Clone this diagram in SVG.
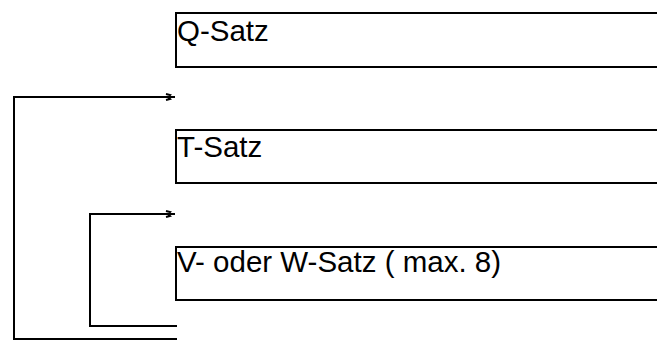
<svg xmlns="http://www.w3.org/2000/svg" width="657" height="354" viewBox="0 0 657 354">
<style>
.box{fill:#fff;stroke:#000;stroke-width:2}
.lbl{font-family:"Liberation Sans",Arial,sans-serif;font-size:29.5px;fill:#000}
.con{fill:none;stroke:#000;stroke-width:2}
.ah{fill:none;stroke:#000;stroke-width:2}
</style>
<rect width="657" height="354" fill="#fff"/>
<g id="q-satz"><rect class="box" x="176" y="13" width="490" height="54"/><text class="lbl" x="177" y="41">Q-Satz</text></g>
<g id="t-satz"><rect class="box" x="176" y="130" width="490" height="53"/><text class="lbl" x="177" y="157">T-Satz</text></g>
<g id="vw-satz"><rect class="box" x="176" y="247" width="490" height="53"/><text class="lbl" x="177" y="272">V- oder W-Satz ( max. 8)</text></g>
<g id="connectors">
<path class="con" d="M177 339 H14 V97 H175"/>
<path class="ah" d="M166 94 L170 95 L168 97 L170 99 L166 100"/>
<path class="con" d="M177 326 H90 V214 H175"/>
<path class="ah" d="M166 211 L170 212 L168 214 L170 216 L166 217"/>
</g>
</svg>
